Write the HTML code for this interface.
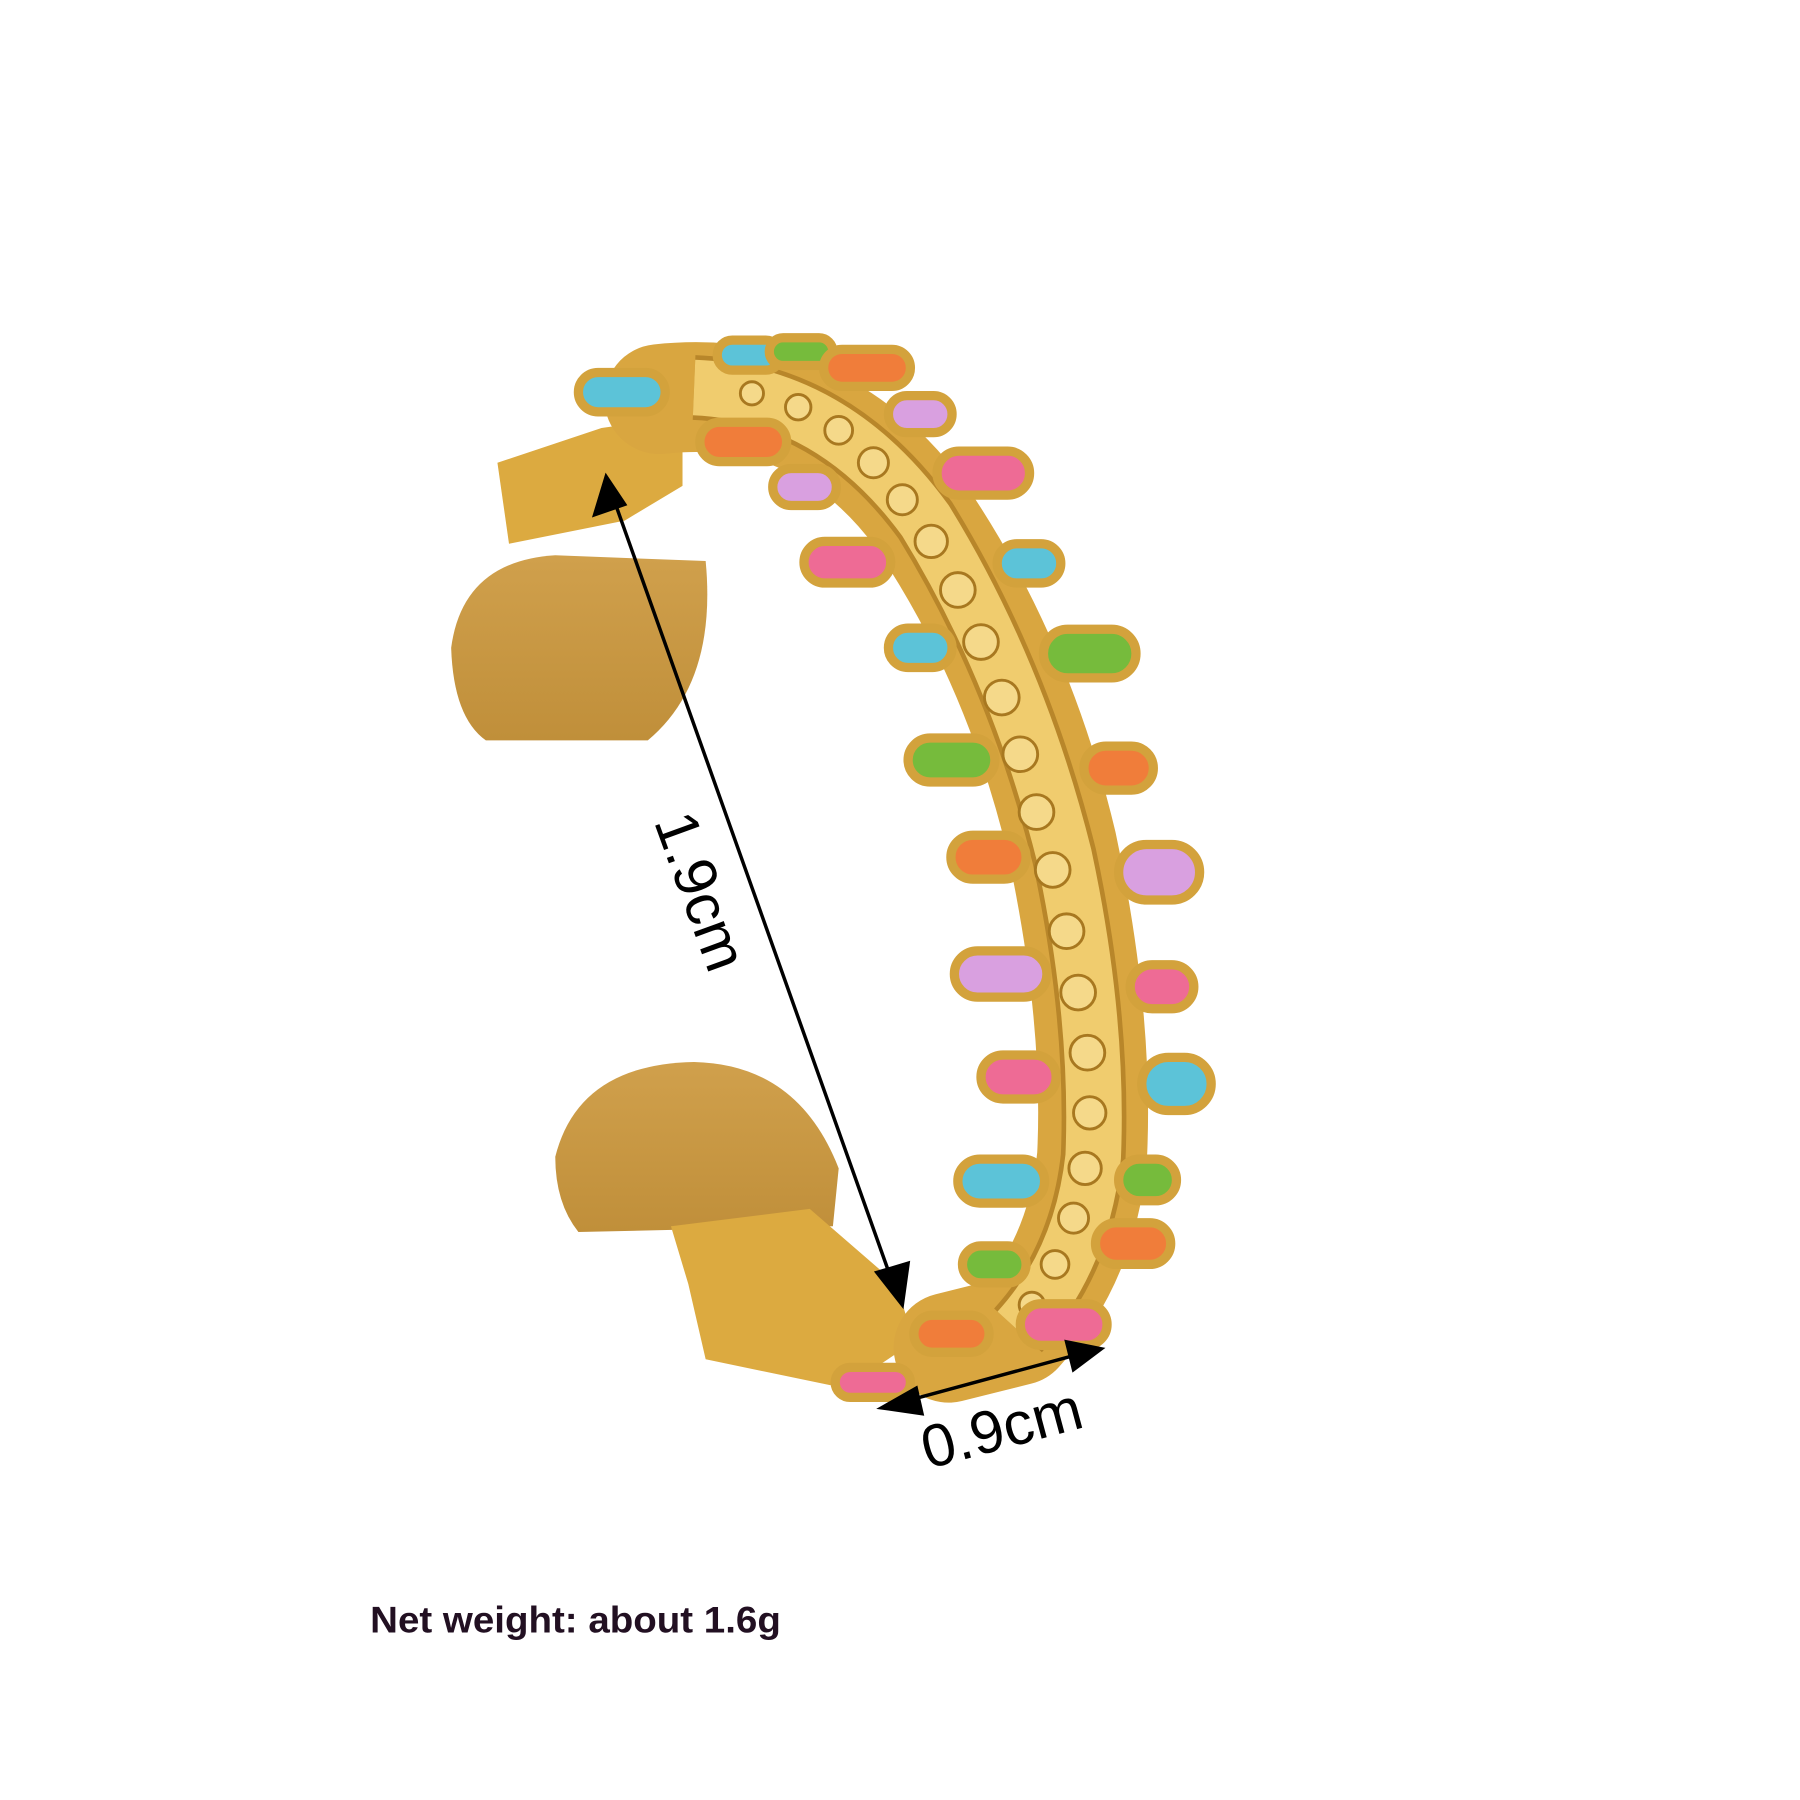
<!DOCTYPE html>
<html><head><meta charset="utf-8"><style>html,body{margin:0;padding:0;background:#fff}svg{display:block}</style></head>
<body>
<svg width="1800" height="1800" viewBox="0 0 1556 1556" xmlns="http://www.w3.org/2000/svg">
<defs>
<linearGradient id="m" x1="0" y1="0" x2="0" y2="1"><stop offset="0" stop-color="#d0a04c"/><stop offset="1" stop-color="#c08f3a"/></linearGradient>
</defs>
<rect width="1556" height="1556" fill="#fff"/>
<!-- tabs -->
<path d="M390 560 Q400 485 480 480 L610 485 Q620 590 560 640 L420 640 Q392 620 390 560Z" fill="url(#m)"/>
<path d="M480 1000 Q500 920 600 918 Q690 920 725 1010 L720 1060 L500 1065 Q480 1040 480 1000Z" fill="url(#m)"/>
<path d="M430 400 L520 370 L590 360 L590 420 L540 450 L440 470 Z" fill="#dcaa40"/>
<path d="M580 1060 L700 1045 L775 1110 L790 1160 L730 1200 L610 1175 L595 1110Z" fill="#dcaa40"/>
<!-- band body -->
<path d="M570 345 Q710 330 795 445 Q880 570 918 730 Q950 880 944 1000 Q935 1090 880 1150 L820 1165" fill="none" stroke="#d9a640" stroke-width="95" stroke-linejoin="round" stroke-linecap="round"/>
<path d="M600 335 Q720 340 800 450 Q880 580 920 740 Q950 880 945 1000 Q935 1090 880 1150" fill="none" stroke="#b8862a" stroke-width="56"/>
<path d="M600 335 Q720 340 800 450 Q880 580 920 740 Q950 880 945 1000 Q935 1090 880 1150" fill="none" stroke="#f0cc6e" stroke-width="48"/>
<g stroke="#a87820" stroke-width="2.5" fill="#f5d98a">
<circle cx="650" cy="340" r="10"/><circle cx="690" cy="352" r="11"/><circle cx="725" cy="372" r="12"/><circle cx="755" cy="400" r="13"/><circle cx="780" cy="432" r="13"/><circle cx="805" cy="468" r="14"/><circle cx="828" cy="510" r="15"/><circle cx="848" cy="555" r="15"/><circle cx="866" cy="603" r="15"/><circle cx="882" cy="652" r="15"/><circle cx="896" cy="702" r="15"/><circle cx="910" cy="752" r="15"/><circle cx="922" cy="805" r="15"/><circle cx="932" cy="858" r="15"/><circle cx="940" cy="910" r="15"/><circle cx="942" cy="962" r="14"/><circle cx="938" cy="1010" r="14"/><circle cx="928" cy="1053" r="13"/><circle cx="912" cy="1093" r="12"/><circle cx="892" cy="1128" r="11"/>
</g>
<!-- pills -->
<g stroke="#d3a23c" stroke-width="8">
<rect x="500" y="322" width="75" height="34" rx="17" fill="#5cc3d8"/>
<rect x="605" y="365" width="75" height="34" rx="17" fill="#f07d3a"/>
<rect x="668" y="405" width="55" height="32" rx="16" fill="#d9a0e0"/>
<rect x="695" y="468" width="75" height="36" rx="18" fill="#ee6b95"/>
<rect x="768" y="543" width="55" height="34" rx="17" fill="#5cc3d8"/>
<rect x="785" y="638" width="75" height="38" rx="19" fill="#76bb3c"/>
<rect x="822" y="722" width="65" height="38" rx="19" fill="#f07d3a"/>
<rect x="825" y="822" width="80" height="40" rx="20" fill="#d9a0e0"/>
<rect x="848" y="912" width="65" height="38" rx="19" fill="#ee6b95"/>
<rect x="828" y="1002" width="75" height="38" rx="19" fill="#5cc3d8"/>
<rect x="832" y="1077" width="55" height="32" rx="16" fill="#76bb3c"/>
<rect x="790" y="1137" width="65" height="32" rx="16" fill="#f07d3a"/>
<rect x="620" y="294" width="55" height="26" rx="13" fill="#5cc3d8"/>
<rect x="665" y="292" width="55" height="24" rx="12" fill="#76bb3c"/>
<rect x="712" y="302" width="75" height="32" rx="16" fill="#f07d3a"/>
<rect x="768" y="342" width="55" height="32" rx="16" fill="#d9a0e0"/>
<rect x="810" y="390" width="80" height="38" rx="19" fill="#ee6b95"/>
<rect x="862" y="470" width="55" height="34" rx="17" fill="#5cc3d8"/>
<rect x="902" y="544" width="80" height="42" rx="21" fill="#76bb3c"/>
<rect x="937" y="645" width="60" height="38" rx="19" fill="#f07d3a"/>
<rect x="967" y="730" width="70" height="48" rx="24" fill="#d9a0e0"/>
<rect x="977" y="834" width="55" height="38" rx="19" fill="#ee6b95"/>
<rect x="987" y="914" width="60" height="46" rx="23" fill="#5cc3d8"/>
<rect x="967" y="1002" width="50" height="36" rx="18" fill="#76bb3c"/>
<rect x="947" y="1057" width="65" height="36" rx="18" fill="#f07d3a"/>
<rect x="882" y="1127" width="75" height="36" rx="18" fill="#ee6b95"/>
<rect x="722" y="1182" width="65" height="26" rx="13" fill="#ee6b95"/>
</g>
<!-- dimension lines -->
<g stroke="#000" stroke-width="3" fill="#000">
<line x1="530" y1="430" x2="772" y2="1110"/>
<path d="M524 412 L514 445 L540 436Z"/>
<path d="M780 1128 L758 1100 L785 1092Z"/>
<line x1="780" y1="1212" x2="935" y2="1170"/>
<path d="M762 1217 L792 1200 L797 1222Z"/>
<path d="M952 1166 L922 1160 L928 1184Z"/>
</g>
<text transform="translate(565,710) rotate(70)" font-family="Liberation Sans, sans-serif" font-size="52" fill="#000">1.9cm</text>
<text transform="translate(802,1270) rotate(-15)" font-family="Liberation Sans, sans-serif" font-size="52" fill="#000">0.9cm</text>
<text x="320" y="1411" font-family="Liberation Sans, sans-serif" font-weight="bold" font-size="32" fill="#221022" textLength="355" lengthAdjust="spacingAndGlyphs">Net weight: about 1.6g</text>
</svg>
</body></html>
